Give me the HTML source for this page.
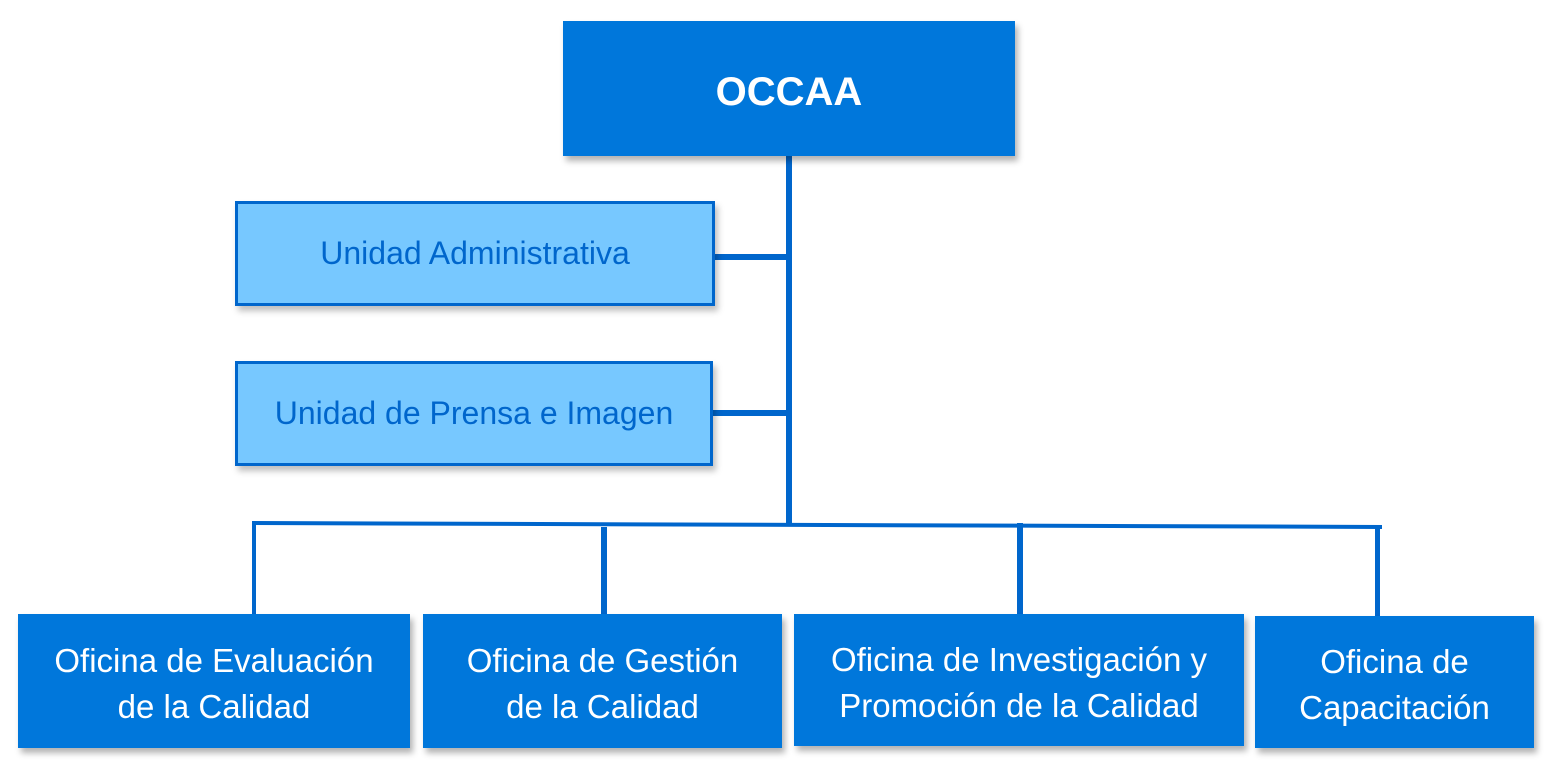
<!DOCTYPE html>
<html><head><meta charset="utf-8"><style>
body{margin:0;width:1555px;height:768px;background:#fff;position:relative;overflow:hidden;font-family:"Liberation Sans",sans-serif}
.b{position:absolute;box-sizing:border-box;display:flex;align-items:center;justify-content:center;text-align:center;white-space:nowrap}
.d{background:#0077db;color:#fff;box-shadow:3px 5px 6px rgba(0,0,0,.3);font-size:33px;line-height:46px;padding-top:6px}
.l{background:#77c8ff;border:3px solid #0066cc;color:#0066cc;font-size:32px;box-shadow:3px 5px 6px rgba(0,0,0,.25)}
.ln{position:absolute;background:#0066cc}
</style></head><body>
<div class="ln" style="left:786px;top:150px;width:6px;height:376px"></div>
<div class="ln" style="left:713px;top:254px;width:76px;height:6px"></div>
<div class="ln" style="left:711px;top:410px;width:78px;height:6px"></div>
<div class="ln" style="left:252px;top:521px;width:1130px;height:4px;transform:rotate(0.2deg);transform-origin:left"></div>
<div class="ln" style="left:252px;top:522px;width:4px;height:94px"></div>
<div class="ln" style="left:601px;top:527px;width:6px;height:89px"></div>
<div class="ln" style="left:1017px;top:523px;width:6px;height:93px"></div>
<div class="ln" style="left:1375px;top:527px;width:5px;height:91px"></div>
<div class="b d" style="left:563px;top:21px;width:452px;height:135px;font-weight:bold;font-size:40px;padding-top:6px">OCCAA</div>
<div class="b l" style="left:235px;top:201px;width:480px;height:105px">Unidad Administrativa</div>
<div class="b l" style="left:235px;top:361px;width:478px;height:105px">Unidad de Prensa e Imagen</div>
<div class="b d" style="left:18px;top:614px;width:392px;height:134px">Oficina de Evaluación<br>de la Calidad</div>
<div class="b d" style="left:423px;top:614px;width:359px;height:134px">Oficina de Gestión<br>de la Calidad</div>
<div class="b d" style="left:794px;top:614px;width:450px;height:132px">Oficina de Investigación y<br>Promoción de la Calidad</div>
<div class="b d" style="left:1255px;top:616px;width:279px;height:132px">Oficina de<br>Capacitación</div>
</body></html>
